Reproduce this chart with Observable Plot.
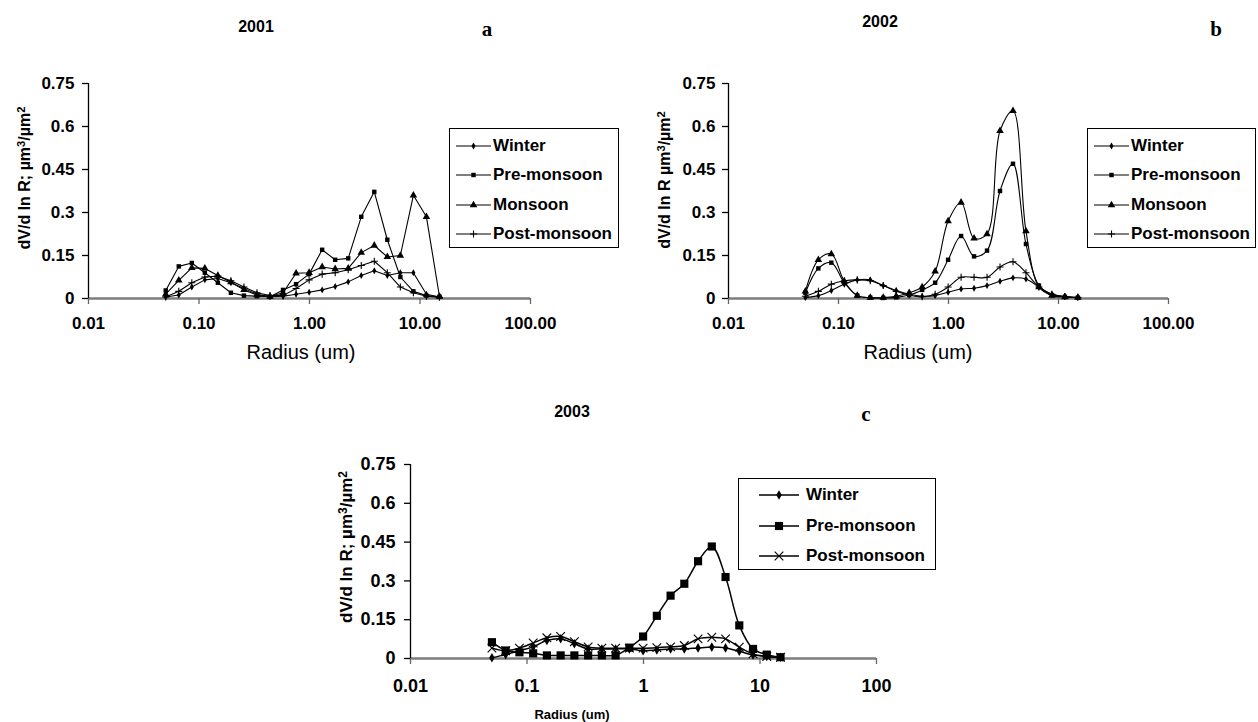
<!DOCTYPE html>
<html><head><meta charset="utf-8">
<script src="https://cdn.jsdelivr.net/npm/d3@7"></script>
<script src="https://cdn.jsdelivr.net/npm/@observablehq/plot@0.6"></script>
<style>
body{margin:0;background:#fff;width:1258px;height:722px;overflow:hidden;position:relative;font-family:"Liberation Sans",Arial,sans-serif;color:#000;}
.panel{position:absolute;}
.txt{position:absolute;white-space:nowrap;transform:translate(-50%,-50%);}
.title{font-weight:bold;font-size:16px;}
.letter{font-family:"Liberation Serif",serif;font-weight:bold;font-size:21px;}
.ylab{position:absolute;white-space:nowrap;font-weight:bold;transform:translate(-50%,-50%) rotate(-90deg);}
.ylab sup{font-size:0.7em;vertical-align:0.45em;line-height:0;}
.legend{position:absolute;border:1.5px solid #000;background:#fff;box-sizing:border-box;}
.lrow{position:absolute;left:0;display:flex;align-items:center;font-weight:bold;font-size:17px;white-space:nowrap;}
</style>
</head><body>
<script>
// ---- data ----
const radius = [0.05, 0.065604, 0.086077, 0.112939, 0.148184, 0.194429, 0.255105, 0.334716, 0.439173, 0.576227, 0.756052, 0.991996, 1.301571, 1.707757, 2.240702, 2.939966, 3.857452, 5.06126, 6.640745, 8.713145, 11.432287, 15.0];

const winter2001 = [0.005, 0.012, 0.04, 0.065, 0.07, 0.055, 0.035, 0.015, 0.006, 0.008, 0.015, 0.022, 0.03, 0.042, 0.058, 0.08, 0.097, 0.08, 0.09, 0.09, 0.015, 0.005];
const pre2001    = [0.028, 0.112, 0.124, 0.09, 0.055, 0.02, 0.01, 0.008, 0.006, 0.03, 0.05, 0.085, 0.17, 0.135, 0.14, 0.285, 0.372, 0.205, 0.075, 0.025, 0.01, 0.006];
const monsoon2001= [0.015, 0.063, 0.107, 0.105, 0.08, 0.057, 0.03, 0.012, 0.007, 0.02, 0.088, 0.09, 0.11, 0.103, 0.105, 0.16, 0.185, 0.145, 0.15, 0.36, 0.285, 0.007];
const post2001   = [0.005, 0.025, 0.055, 0.075, 0.078, 0.062, 0.04, 0.02, 0.01, 0.01, 0.035, 0.065, 0.085, 0.09, 0.1, 0.115, 0.13, 0.09, 0.04, 0.02, 0.008, 0.004];

const winter2002 = [0.003, 0.01, 0.028, 0.05, 0.065, 0.065, 0.045, 0.028, 0.015, 0.008, 0.01, 0.022, 0.033, 0.036, 0.045, 0.06, 0.072, 0.068, 0.04, 0.015, 0.007, 0.004];
const pre2002    = [0.02, 0.105, 0.125, 0.055, 0.01, 0.003, 0.002, 0.004, 0.012, 0.03, 0.055, 0.135, 0.218, 0.147, 0.167, 0.375, 0.47, 0.19, 0.045, 0.012, 0.006, 0.003];
const monsoon2002= [0.025, 0.135, 0.155, 0.06, 0.01, 0.003, 0.003, 0.008, 0.02, 0.04, 0.095, 0.27, 0.335, 0.21, 0.225, 0.585, 0.655, 0.235, 0.04, 0.01, 0.005, 0.003];
const post2002   = [0.008, 0.025, 0.05, 0.062, 0.065, 0.062, 0.045, 0.025, 0.012, 0.006, 0.015, 0.04, 0.074, 0.074, 0.074, 0.11, 0.128, 0.09, 0.04, 0.015, 0.007, 0.004];

const winter2003 = [0.003, 0.015, 0.03, 0.045, 0.07, 0.076, 0.057, 0.037, 0.037, 0.037, 0.037, 0.03, 0.033, 0.037, 0.037, 0.041, 0.044, 0.041, 0.028, 0.014, 0.008, 0.005];
const pre2003    = [0.063, 0.031, 0.024, 0.02, 0.012, 0.012, 0.012, 0.012, 0.012, 0.012, 0.042, 0.085, 0.165, 0.243, 0.289, 0.376, 0.433, 0.315, 0.128, 0.037, 0.015, 0.005];
const post2003   = [0.04, 0.03, 0.04, 0.06, 0.08, 0.085, 0.065, 0.045, 0.04, 0.04, 0.04, 0.04, 0.042, 0.045, 0.05, 0.076, 0.082, 0.076, 0.044, 0.018, 0.008, 0.005];

const xTicks = [0.01, 0.1, 1, 10, 100];
const xTickLabelsAB = ["0.01", "0.10", "1.00", "10.00", "100.00"];
const xTickLabelsC = ["0.01", "0.1", "1", "10", "100"];
const yTicks = [0, 0.15, 0.3, 0.45, 0.6, 0.75];
const yTickLabels = ["0", "0.15", "0.3", "0.45", "0.6", "0.75"];

// ---- styles ----
const symSmall = {
  "Winter": {symbol: "diamond", r: 2.1, filled: true},
  "Pre-monsoon": {symbol: "square", r: 2.5, filled: true},
  "Monsoon": {symbol: "triangle", r: 2.8, filled: true},
  "Post-monsoon": {symbol: "plus", r: 2.4, filled: false}
};
const symBig = {
  "Winter": {symbol: "diamond", r: 2.9, filled: true},
  "Pre-monsoon": {symbol: "square", r: 4.6, filled: true},
  "Post-monsoon": {symbol: "times", r: 4, filled: false}
};

function add(html, cls, x, y, style) {
  const d = document.createElement("div");
  d.className = cls; d.innerHTML = html;
  d.style.left = x + "px"; d.style.top = y + "px";
  if (style) Object.assign(d.style, style);
  document.body.appendChild(d);
  return d;
}

function panel(cfg) {
  const xmap = new Map(xTicks.map((t, i) => [t, cfg.xLabels[i]]));
  const ymap = new Map(yTicks.map((t, i) => [t, yTickLabels[i]]));
  const marks = [
    Plot.ruleY([0], {stroke: "#7d7d7d", strokeWidth: 2.4}),
    Plot.ruleX([0.01], {stroke: "#000", strokeWidth: 1.3}),
    Plot.axisX({ticks: xTicks, tickFormat: d => xmap.get(d), tickSize: 6, tickPadding: cfg.xPad, fontSize: cfg.tickFont, fontWeight: "bold", stroke: "#666", strokeWidth: 1.3, label: null}),
    Plot.axisY({ticks: yTicks, tickFormat: d => ymap.get(d), tickSize: 6, tickPadding: cfg.yPad, fontSize: cfg.tickFont, fontWeight: "bold", strokeWidth: 1.3, label: null})
  ];
  for (const s of cfg.series) {
    const rows = s.values.map((v, i) => ({r: radius[i], v}));
    marks.push(Plot.line(rows, {x: "r", y: "v", stroke: "#000", strokeWidth: cfg.lw, curve: cfg.curve}));
  }
  for (const s of cfg.series) {
    const rows = s.values.map((v, i) => ({r: radius[i], v}));
    const st = cfg.syms[s.name];
    marks.push(Plot.dot(rows, st.filled
      ? {x: "r", y: "v", symbol: st.symbol, r: st.r, fill: "#000", stroke: "none"}
      : {x: "r", y: "v", symbol: st.symbol, r: st.r, fill: "none", stroke: "#000", strokeWidth: 1.1}));
  }
  const chart = Plot.plot({
    width: cfg.width, height: cfg.height,
    marginLeft: cfg.m[3], marginRight: cfg.m[1], marginTop: cfg.m[0], marginBottom: cfg.m[2],
    x: {type: "log", domain: [0.01, 100]},
    y: {domain: [0, 0.75]},
    style: {fontFamily: "Liberation Sans, Arial, sans-serif", color: "#000", background: "transparent", overflow: "visible"},
    marks
  });
  const wrap = document.createElement("div");
  wrap.className = "panel";
  wrap.style.left = cfg.left + "px"; wrap.style.top = cfg.top + "px";
  wrap.appendChild(chart);
  document.body.appendChild(wrap);

  // legend
  const L = cfg.legend;
  const box = add("", "legend", L.x, L.y, {width: L.w + "px", height: L.h + "px"});
  cfg.series.forEach((s, i) => {
    const st = cfg.syms[s.name];
    const row = document.createElement("div");
    row.className = "lrow";
    row.style.top = (L.row0 + i * L.gap - L.y - 10) + "px";
    row.style.height = "20px";
    row.style.left = (L.lineX - L.x) + "px";
    row.style.fontSize = L.font + "px";
    const W = L.lineW;
    const svg = d3.create("svg").attr("width", W).attr("height", 20).style("overflow", "visible");
    svg.append("line").attr("x1", 0).attr("x2", W).attr("y1", 10).attr("y2", 10).attr("stroke", "#000").attr("stroke-width", cfg.lw);
    const symMap = {diamond: d3.symbolDiamond, square: d3.symbolSquare, triangle: d3.symbolTriangle, times: d3.symbolTimes, plus: d3.symbolPlus};
    svg.append("path").attr("transform", `translate(${W/2},10)`)
      .attr("d", d3.symbol(symMap[st.symbol], Math.PI * st.r * st.r)())
      .attr("fill", st.filled ? "#000" : "none").attr("stroke", st.filled ? "none" : "#000").attr("stroke-width", 1.1);
    row.appendChild(svg.node());
    const t = document.createElement("span");
    t.textContent = s.name; t.style.marginLeft = L.textGap + "px";
    row.appendChild(t);
    box.appendChild(row);
  });
}

// Panel a
panel({
  series: [{name: "Winter", values: winter2001}, {name: "Pre-monsoon", values: pre2001}, {name: "Monsoon", values: monsoon2001}, {name: "Post-monsoon", values: post2001}],
  xLabels: xTickLabelsAB, syms: symSmall, lw: 1.1, curve: "linear",
  left: 0, top: 60, width: 620, height: 310, m: [23, 90, 72, 88], tickFont: 17, xPad: 12, yPad: 8,
  legend: {x: 449, y: 128, w: 170, h: 120, row0: 144.5, gap: 29.5, lineX: 455, lineW: 35, textGap: 2, font: 17}
});
// Panel b
panel({
  series: [{name: "Winter", values: winter2002}, {name: "Pre-monsoon", values: pre2002}, {name: "Monsoon", values: monsoon2002}, {name: "Post-monsoon", values: post2002}],
  xLabels: xTickLabelsAB, syms: symSmall, lw: 1.1, curve: "catmull-rom",
  left: 620, top: 60, width: 638, height: 310, m: [23, 90, 72, 108], tickFont: 17, xPad: 12, yPad: 7,
  legend: {x: 1087, y: 128, w: 169, h: 120, row0: 144.5, gap: 29.5, lineX: 1093, lineW: 35, textGap: 2, font: 17}
});
// Panel c
panel({
  series: [{name: "Winter", values: winter2003}, {name: "Pre-monsoon", values: pre2003}, {name: "Post-monsoon", values: post2003}],
  xLabels: xTickLabelsC, syms: symBig, lw: 1.5, curve: "catmull-rom",
  left: 300, top: 440, width: 640, height: 282, m: [24, 64, 64, 110], tickFont: 18, xPad: 15, yPad: 9,
  legend: {x: 738, y: 478, w: 198, h: 92, row0: 494, gap: 30.5, lineX: 758, lineW: 40, textGap: 7, font: 17}
});

// titles and axis labels
add("2001", "txt title", 256, 27);
add("a", "txt letter", 487, 29);
add("2002", "txt title", 880, 22);
add("b", "txt letter", 1216, 29);
add("2003", "txt title", 572, 412);
add("c", "txt letter", 866, 414);

add("Radius (um)", "txt", 301, 352, {fontSize: "20px"});
add("Radius (um)", "txt", 918, 352, {fontSize: "20px"});
add("Radius (um)", "txt", 572, 714, {fontSize: "13px", fontWeight: "bold"});

add("dV/d ln R; µm<sup>3</sup>/µm<sup>2</sup>", "ylab", 25, 178, {fontSize: "16px"});
add("dV/d ln R µm<sup>3</sup>/µm<sup>2</sup>", "ylab", 665, 180, {fontSize: "16px"});
add("dV/d ln R; µm<sup>3</sup>/µm<sup>2</sup>", "ylab", 347, 547, {fontSize: "17px"});
</script>
</body></html>
